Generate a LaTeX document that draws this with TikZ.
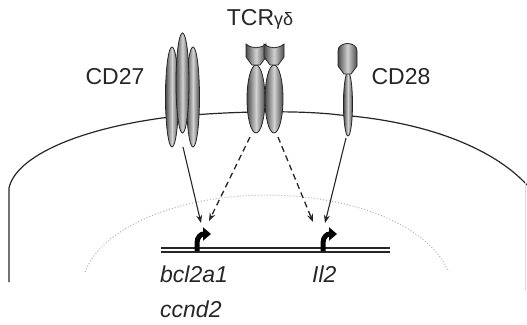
\documentclass[tikz,border=0pt]{standalone}
\usepackage{fontspec}
\setsansfont{Liberation Sans}
\usetikzlibrary{arrows.meta}

\tikzset{
    protein/.style={draw=black!85, line width=0.8pt, left color=black!70, right color=black!70, middle color=gray!35},
    signal/.style={line width=1.1pt, black!85, -{Stealth[length=8pt,width=6pt]}},
    weaksignal/.style={signal, line width=1.3pt, dash pattern=on 6pt off 4pt},
    promoter/.style={line width=5pt, line cap=butt, -{Triangle[length=8pt,width=13pt]}},
    lbl/.style={font=\sffamily\fontsize{23}{26}\selectfont, text=black!85, inner sep=0pt},
    gene/.style={lbl, font=\sffamily\itshape\fontsize{23}{26}\selectfont}
}

\begin{document}
\begin{tikzpicture}[x=1pt, y=-1pt]
    \useasboundingbox (0,0) rectangle (527,324);

    % cell membrane
    \draw[line width=1.2pt, black!85] (9,282) -- (9,188)
        .. controls (16,156) and (80,128) .. (170,117)
        .. controls (230,111) and (300,110) .. (340,115)
        .. controls (430,122) and (495,150) .. (527,185);
    \draw[line width=0.5pt, gray!30] (525,182) -- (525,290);

    % nucleus
    \draw[gray!60, line width=1pt, dotted] (85,272) arc[start angle=191, end angle=349, x radius=185, y radius=95];

    % DNA strands
    \draw[line width=1.1pt, black!85] (161,248) -- (390,248);
    \draw[line width=1.1pt, black!85] (161,252) -- (390,252);

    % promoters
    \draw[promoter] (197,251) -- (197,243) .. controls (197,237) and (201,234) .. (211,234);
    \draw[promoter] (323,251) -- (323,243) .. controls (323,237) and (327,234) .. (337,234);

    % CD27 (three stacked chains)
    \foreach \x in {172,193} {
        \draw[protein] (\x,97) ellipse [x radius=6.5, y radius=50];
    }
    \draw[protein] (182.5,83) ellipse [x radius=6.5, y radius=50];

    % TCR gamma delta (two chains)
    \foreach \x in {256,274} {
        \draw[protein] (\x,99) ellipse [x radius=9, y radius=34];
        \draw[protein] (\x-10,44) -- (\x-10,57) -- (\x-4,65) -- (\x+4,65) -- (\x+10,57) -- (\x+10,44)
            .. controls (\x+4,49) and (\x-4,49) .. cycle;
    }

    % CD28
    \draw[protein] (348,104) ellipse [x radius=4.5, y radius=32];
    \draw[protein] (338,66) -- (338,51) .. controls (338,41) and (357,41) .. (357,51)
        -- (357,66) -- (351,74) -- (344,74) -- cycle;

    % labels
    \node[lbl] (cd27) at (115,77) {CD27};
    \node[lbl] (tcr) at (260,19) {TCR\fontsize{18}{20}\selectfont γδ};
    \node[lbl] (cd28) at (401,77) {CD28};
    \node[gene, anchor=base west] (bcl) at (160,282) {bcl2a1};
    \node[gene, anchor=base west] (ccnd) at (160,317) {ccnd2};
    \node[gene, anchor=base west] (il2) at (312,282) {Il2};

    % signalling
    \coordinate (cd27out) at (183,147);
    \coordinate (tcrleft) at (250,137);
    \coordinate (tcrright) at (278,137);
    \coordinate (cd28out) at (346,138);
    \coordinate (bclin) at (201,223);
    \coordinate (bclin2) at (209,221);
    \coordinate (il2in) at (313,222);
    \coordinate (il2in2) at (325,223);

    \draw[signal] (cd27out) -- (bclin);
    \draw[weaksignal] (tcrleft) -- (bclin2);
    \draw[weaksignal] (tcrright) -- (il2in);
    \draw[signal] (cd28out) -- (il2in2);
\end{tikzpicture}
\end{document}
